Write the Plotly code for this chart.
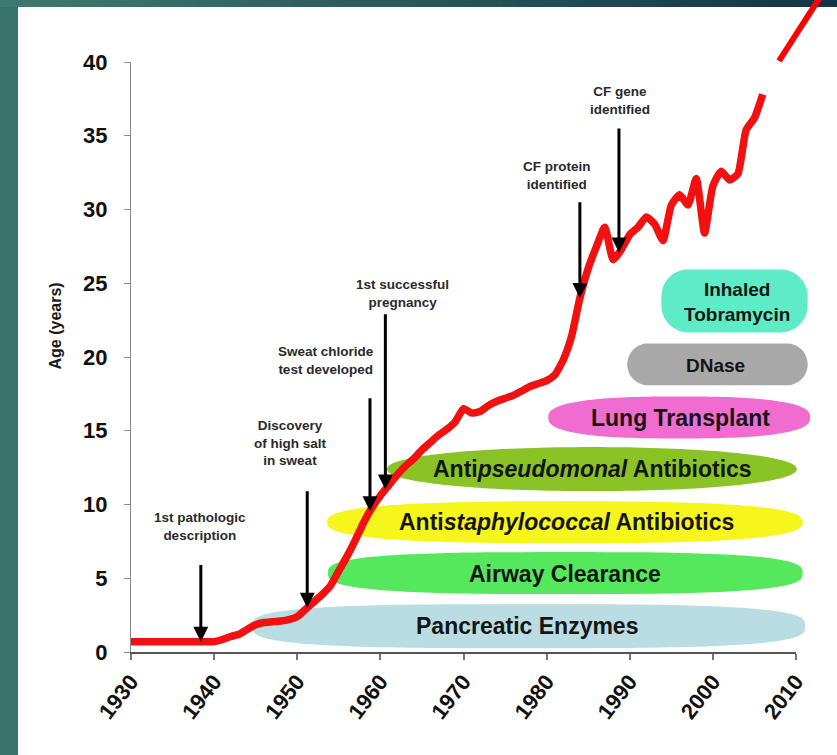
import numpy as np
import plotly.graph_objects as go

# ---------------- data ----------------
years = [1930, 1931, 1932, 1933, 1934, 1935, 1936, 1937, 1938, 1939,
         1940, 1941, 1942, 1943, 1944, 1945, 1946, 1947, 1948, 1949,
         1950, 1951, 1952, 1953, 1954, 1955, 1956, 1957, 1958, 1959,
         1960, 1961, 1962, 1963, 1964, 1965, 1966, 1967, 1968, 1969,
         1970, 1971, 1972, 1973, 1974, 1975, 1976, 1977, 1978, 1979,
         1980, 1981, 1982, 1983, 1984, 1985, 1986, 1987, 1988, 1989,
         1990, 1991, 1992, 1993, 1994, 1995, 1996, 1997, 1998, 1999,
         2000, 2001, 2002, 2003, 2004, 2005, 2006]
median_age = [0.7, 0.7, 0.7, 0.7, 0.7, 0.7, 0.7, 0.7, 0.7, 0.7,
              0.7, 0.85, 1.05, 1.2, 1.55, 1.85, 2.0, 2.05, 2.1, 2.2,
              2.4, 2.9, 3.4, 3.9, 4.5, 5.5, 6.5, 7.6, 8.8, 9.8,
              10.6, 11.3, 12.0, 12.6, 13.1, 13.7, 14.2, 14.7, 15.1, 15.6,
              16.5, 16.2, 16.3, 16.7, 17.0, 17.2, 17.4, 17.7, 18.0, 18.2,
              18.4, 18.8, 19.8, 21.4, 24.0, 26.0, 27.5, 28.8, 26.6, 27.3,
              28.3, 28.8, 29.5, 29.0, 27.9, 30.3, 31.0, 30.3, 32.1, 28.4,
              31.6, 32.6, 32.0, 32.4, 35.4, 36.2, 37.8]

x_ticks = [1930, 1940, 1950, 1960, 1970, 1980, 1990, 2000, 2010]
y_ticks = [0, 5, 10, 15, 20, 25, 30, 35, 40]

events = ["1st pathologic<br>description",
          "Discovery<br>of high salt<br>in sweat",
          "Sweat chloride<br>test developed",
          "1st successful<br>pregnancy",
          "CF protein<br>identified",
          "CF gene<br>identified"]
event_years = [1938.4, 1951.2, 1958.75, 1960.6, 1984.0, 1988.7]

therapies = ["Pancreatic Enzymes",
             "Airway Clearance",
             "Anti<i>staphylococcal</i> Antibiotics",
             "Anti<i>pseudomonal</i> Antibiotics",
             "Lung Transplant",
             "DNase",
             "Inhaled<br>Tobramycin"]
therapy_start = [1944.6, 1953.7, 1953.6, 1960.8, 1980.2, 1989.7, 1993.8]
therapy_end = [2011.1, 2010.8, 2010.8, 2010.1, 2011.7, 2011.4, 2011.4]

# ---------------- layout / style ----------------
W, H = 837, 755
PL, PR, PT, PB = 131, 796, 62, 652          # plot area in pixels
X0, X1, Y0, Y1 = 1930, 2010, 0, 40

def px_x(p):  # pixel -> paper x
    return (p - PL) / (PR - PL)

def px_y(p):  # pixel -> paper y
    return (PB - p) / (PB - PT)

def yr_x(v):  # year -> paper x
    return (v - X0) / (X1 - X0)

def val_y(v):  # value -> paper y
    return (v - Y0) / (Y1 - Y0)

def px_year(p):
    return X0 + (p - PL) / (PR - PL) * (X1 - X0)

def px_val(p):
    return Y0 + (PB - p) / (PB - PT) * (Y1 - Y0)

FONT = "Liberation Sans, Arial, sans-serif"

band_center = [1.75, 5.35, 8.8, 12.4, 15.9, 19.5, 23.8]
band_h_px = [44, 42, 42, 44, 42, 42, 63]
band_colors = ["#b9dde2", "#55e85c", "#f6f61c", "#89c326", "#f06cd0", "#a9a9a9", "#5eecc6"]
band_kind = [("se", 3.2), ("se", 3.0), ("se", 2.7), ("se", 2.1), ("se", 2.6),
             ("rr", 21), ("rr", 27)]
label_px = [(527, 626), (565, 574), (566, 522), (592, 469), (680, 418), (715, 365), (737, 302)]

event_tail = [6.0, 11.0, 17.3, 23.0, 30.6, 35.6]
event_text_px = [(200, 526), (290, 443), (326, 360), (402, 293), (557, 175), (620, 100)]


def superellipse(cx, cy, a, b, n, npts=160):
    t = np.linspace(0, 2 * np.pi, npts, endpoint=False)
    c, s = np.cos(t), np.sin(t)
    xs = cx + a * np.sign(c) * np.abs(c) ** (2.0 / n)
    ys = cy + b * np.sign(s) * np.abs(s) ** (2.0 / n)
    return "M " + " L ".join(f"{x:.5f},{y:.5f}" for x, y in zip(xs, ys)) + " Z"


def rounded_rect(x0, y0, x1, y1, rpx, npts=16):
    rx = rpx / (PR - PL)
    ry = rpx / (PB - PT)
    pts = []
    corners = [(x1 - rx, y1 - ry, 0), (x0 + rx, y1 - ry, 90),
               (x0 + rx, y0 + ry, 180), (x1 - rx, y0 + ry, 270)]
    for cx, cy, a0 in corners:
        for ang in np.linspace(np.radians(a0), np.radians(a0 + 90), npts):
            pts.append((cx + rx * np.cos(ang), cy + ry * np.sin(ang)))
    return "M " + " L ".join(f"{x:.5f},{y:.5f}" for x, y in pts) + " Z"


shapes = []
# white slide area
shapes.append(dict(type="rect", xref="paper", yref="paper",
                   x0=px_x(18), x1=px_x(W + 5), y0=px_y(H + 5), y1=px_y(7),
                   fillcolor="white", line_width=0, layer="below"))
# top gradient band
n_strips = 60
c0 = np.array([0x3e, 0x7b, 0x6f])
c1 = np.array([0x12, 0x36, 0x47])
for i in range(n_strips):
    f = i / (n_strips - 1)
    col = (c0 + (c1 - c0) * f).astype(int)
    shapes.append(dict(type="rect", xref="paper", yref="paper",
                       x0=px_x(W * i / n_strips - 0.5), x1=px_x(W * (i + 1) / n_strips + 0.5),
                       y0=px_y(7), y1=px_y(-2),
                       fillcolor=f"rgb({col[0]},{col[1]},{col[2]})", line_width=0, layer="below"))

# therapy bands
for i, name in enumerate(therapies):
    xa, xb = yr_x(therapy_start[i]), yr_x(therapy_end[i])
    cy = val_y(band_center[i])
    hh = band_h_px[i] / 2 / (PB - PT)
    kind, par = band_kind[i]
    if kind == "se":
        path = superellipse((xa + xb) / 2, cy, (xb - xa) / 2, hh, par)
    else:
        path = rounded_rect(xa, cy - hh, xb, cy + hh, par)
    shapes.append(dict(type="path", xref="paper", yref="paper", path=path,
                       fillcolor=band_colors[i], line_width=0, layer="below"))

# red slash decoration
shapes.append(dict(type="line", xref="paper", yref="paper",
                   x0=px_x(779), y0=px_y(61), x1=px_x(819.5), y1=px_y(-2),
                   line=dict(color="#ff0000", width=6), layer="above"))

annotations = []
# therapy labels
for i, name in enumerate(therapies):
    lx, ly = label_px[i]
    small = i >= 5
    annotations.append(dict(x=px_year(lx), y=px_val(ly), xref="x", yref="y",
                            text=name, showarrow=False,
                            font=dict(family=FONT, size=19 if small else 23,
                                      color="#151515", weight="bold")))

# event arrows + texts
for i, ev in enumerate(events):
    tip = float(np.interp(event_years[i], years, median_age))
    annotations.append(dict(x=event_years[i], y=tip, xref="x", yref="y",
                            ax=event_years[i], ay=event_tail[i], axref="x", ayref="y",
                            text="", showarrow=True, arrowhead=2, arrowsize=1,
                            arrowwidth=3, arrowcolor="#000000", standoff=0))
    tx, ty = event_text_px[i]
    annotations.append(dict(x=px_year(tx), y=px_val(ty), xref="x", yref="y",
                            text=ev, showarrow=False,
                            font=dict(family=FONT, size=13.5, color="#2a2a2a", weight="bold")))

# y-axis title
annotations.append(dict(x=px_x(44), y=px_y(326), xref="paper", yref="paper",
                        text="Age (years)", textangle=-90, showarrow=False,
                        font=dict(family=FONT, size=16, color="#1a1a1a", weight="bold")))

fig = go.Figure()
fig.add_trace(go.Scatter(x=years, y=median_age, mode="lines",
                         line=dict(color="#f21010", width=7.5, shape="spline", smoothing=0.5),
                         hoverinfo="skip"))

fig.update_layout(
    width=W, height=H,
    margin=dict(l=PL, r=W - PR, t=PT, b=H - PB),
    paper_bgcolor="#38736a",
    plot_bgcolor="rgba(0,0,0,0)",
    showlegend=False,
    shapes=shapes,
    annotations=annotations,
    xaxis=dict(range=[X0, X1], tickmode="array", tickvals=x_ticks,
               ticktext=[str(v) for v in x_ticks], tickangle=-52,
               showline=True, linecolor="#555555", linewidth=2,
               ticks="outside", ticklen=6, tickwidth=1.5, tickcolor="#777777",
               showgrid=False, zeroline=False,
               tickfont=dict(family=FONT, size=22, color="#111111", weight="bold")),
    yaxis=dict(range=[Y0, Y1], tickmode="array", tickvals=y_ticks,
               showline=True, linecolor="#8a8a8a", linewidth=1.2,
               ticks="outside", ticklen=6, tickwidth=1.2, tickcolor="#8a8a8a",
               showgrid=False, zeroline=False, ticklabelstandoff=12,
               tickfont=dict(family=FONT, size=22, color="#111111", weight="bold")),
)

fig.write_html("out.html", config={"displayModeBar": False},
               post_script="document.body.style.margin='0';document.body.style.overflow='hidden';")
